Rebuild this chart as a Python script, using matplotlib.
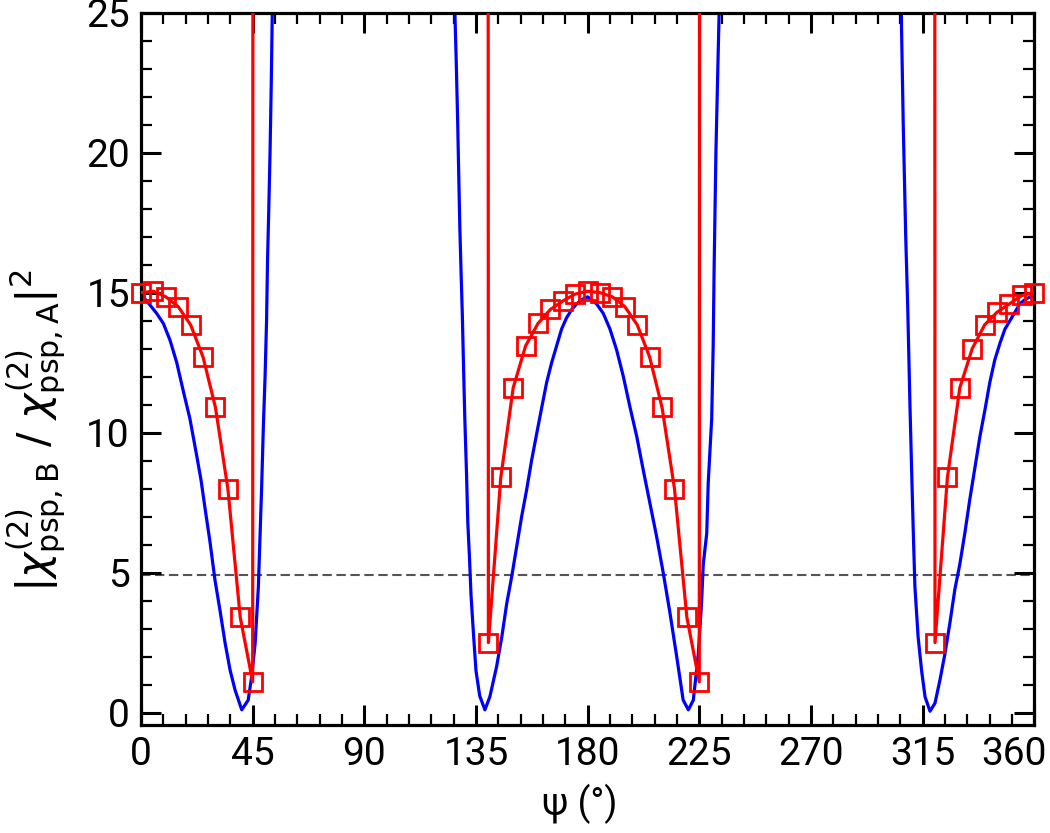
import numpy as np
import matplotlib
matplotlib.use("Agg")
import matplotlib.pyplot as plt
import matplotlib.transforms as mtransforms
from matplotlib.ticker import MultipleLocator

# ---------------- data ----------------
# blue curve, three visible branches (values above 25 are off-chart)
blue1_x = [0.0, 0.9, 3.6, 6.3, 9.0, 11.7, 14.4, 17.0, 19.7, 22.4, 24.2, 25.8, 27.8,
           29.8, 31.8, 33.9, 35.9, 37.9, 40.6, 43.2, 44.6, 46.0, 47.3, 48.0, 48.6,
           49.3, 50.0, 50.6, 51.0, 51.5, 52.0, 52.5, 52.9, 53.3]
blue1_y = [14.85, 14.85, 14.56, 14.26, 13.9, 13.3, 12.5, 11.5, 10.5, 9.2, 8.3, 7.3, 6.1,
           4.74, 3.67, 2.48, 1.52, 0.81, 0.1, 0.45, 1.29, 2.48, 4.5, 6.4, 8.0,
           10.2, 12.0, 14.0, 16.2, 18.0, 20.0, 22.5, 25.0, 30.0]

blue2_x = [126.0, 126.5, 127.0, 127.6, 128.1, 128.5, 129.0, 129.5, 130.0, 130.5, 131.2,
           131.7, 132.4, 133.0, 134.0, 135.0, 136.5, 138.6, 140.6, 143.3, 145.4, 147.4,
           149.4, 151.4, 153.4, 155.4, 157.4, 159.5, 161.5, 163.5, 165.5, 167.5, 169.5,
           171.5, 173.6, 175.6, 177.6, 180.0, 183.6, 186.3, 189.0, 191.7, 194.4, 197.1,
           199.8, 202.4, 205.1, 207.8, 210.5, 213.2, 215.9, 218.5, 220.6, 222.6, 224.6,
           225.9, 226.6, 228.0, 228.6, 230.0, 230.6, 231.0, 231.7, 232.6, 233.0, 233.4]
blue2_y = [30.0, 25.0, 23.4, 21.2, 19.0, 17.3, 15.7, 14.2, 12.3, 10.5, 8.5,
           6.8, 5.5, 4.2, 2.8, 1.5, 0.6, 0.1, 0.57, 1.64, 2.7, 3.9,
           4.86, 5.93, 7.0, 7.95, 9.0, 9.98, 10.9, 11.8, 12.5, 13.1, 13.7,
           14.1, 14.4, 14.6, 14.75, 14.85, 14.6, 14.26, 13.7, 12.95, 12.0, 10.9,
           9.86, 8.67, 7.48, 6.29, 4.98, 3.55, 2.0, 0.45, 0.1, 0.45, 2.1,
           3.9, 5.3, 6.4, 8.2, 10.5, 13.1, 16.0, 20.0, 23.5, 25.0, 30.0]

blue3_x = [306.0, 306.5, 307.2, 308.2, 309.0, 309.9, 310.6, 311.2, 311.9, 313.2, 314.6,
           316.0, 318.0, 320.0, 322.0, 324.0, 326.0, 328.0, 330.0, 332.0, 334.0, 336.0,
           338.1, 340.1, 342.1, 344.1, 346.2, 348.2, 350.2, 352.2, 354.2, 356.2, 358.3, 360.0]
blue3_y = [30.0, 24.5, 21.0, 17.0, 14.5, 11.0, 8.6, 6.6, 4.5, 2.7, 1.5,
           0.56, 0.05, 0.34, 1.17, 2.1, 3.2, 4.4, 5.3, 6.4, 7.6, 8.7,
           9.86, 10.8, 11.8, 12.6, 13.2, 13.7, 14.0, 14.3, 14.6, 14.75, 14.85, 14.85]

# red curve (with square markers every 5 degrees); the 60-values are off-chart poles
red1_x = [0, 5, 10, 15, 20, 25, 30, 35, 40, 45]
red1_y = [15.0, 15.05, 14.85, 14.5, 13.85, 12.7, 10.9, 8.0, 3.4, 1.1]
red2_x = [140, 145, 150, 155, 160, 165, 170, 175, 180, 185, 190, 195, 200, 205,
          210, 215, 220, 225]
red2_y = [2.5, 8.4, 11.6, 13.1, 13.9, 14.4, 14.7, 14.95, 15.05, 15.0, 14.85, 14.5,
          13.85, 12.7, 10.9, 8.0, 3.4, 1.1]
red3_x = [320, 325, 330, 335, 340, 345, 350, 355, 360]
red3_y = [2.5, 8.4, 11.6, 13.0, 13.85, 14.3, 14.6, 14.9, 15.0]
pole_after_x = [45.2, 225.2]      # red rises off-chart right after these
pole_before_x = [139.8, 319.8]    # red comes down from off-chart here
pole_y = 60.0

ref_level = 4.9

# ---------------- figure ----------------
fig = plt.figure(figsize=(10.5, 8.33), dpi=100)
ax = fig.add_axes([0.1343, 0.1297, 0.8507, 0.8551])

lw = 2.3
for bx, by in [(blue1_x, blue1_y), (blue2_x, blue2_y), (blue3_x, blue3_y)]:
    ax.plot(bx, by, color="#0000ff", lw=lw, solid_joinstyle="round", zorder=2)

rl1_x = red1_x + [pole_after_x[0]]
rl1_y = red1_y + [pole_y]
rl2_x = [pole_before_x[0]] + red2_x + [pole_after_x[1]]
rl2_y = [pole_y] + red2_y + [pole_y]
rl3_x = [pole_before_x[1]] + red3_x
rl3_y = [pole_y] + red3_y
for rx, ry in [(rl1_x, rl1_y), (rl2_x, rl2_y), (rl3_x, rl3_y)]:
    ax.plot(rx, ry, color="#ff0000", lw=lw, zorder=3)
for rx, ry in [(red1_x, red1_y), (red2_x, red2_y), (red3_x, red3_y)]:
    ax.plot(rx, ry, linestyle="none", marker="s", markersize=13,
            markerfacecolor="none", markeredgecolor="#ff0000", markeredgewidth=2.0,
            zorder=4, clip_on=False)

ax.axhline(ref_level, color="#555555", lw=1.5, linestyle=(0, (4.5, 2.2)), zorder=1)

ax.set_xlim(0, 360)
ax.set_ylim(-0.44, 25)

ax.xaxis.set_major_locator(MultipleLocator(45))
ax.xaxis.set_minor_locator(MultipleLocator(9))
ax.yaxis.set_major_locator(MultipleLocator(5))
ax.yaxis.set_minor_locator(MultipleLocator(1))

fam = ["Roboto", "DejaVu Sans"]
ax.tick_params(which="both", direction="in", top=True, right=True)
ax.tick_params(which="major", length=14.5, width=2.2, labelsize=28, pad=8)
ax.tick_params(which="minor", length=8, width=1.6)
for lab in ax.get_xticklabels() + ax.get_yticklabels():
    lab.set_family(fam)
for s in ax.spines.values():
    s.set_linewidth(2.3)

fig.canvas.draw()
for l in ax.get_xticklabels():
    if l.get_text() == "360":
        l.set_transform(l.get_transform() +
                        mtransforms.ScaledTranslation(-20 / 100, 0, fig.dpi_scale_trans))

ax.set_xlabel("ψ (°)", fontsize=27, family=fam)
ax.xaxis.set_label_coords(0.4916, -0.082)
ax.set_ylabel(r"$|\chi^{\mathit{(2)}}_{\rm psp,B}\ /\ \chi^{\mathit{(2)}}_{\rm psp,A}|^2$",
              fontsize=31)
ax.yaxis.set_label_coords(-0.082, 0.414)

fig.savefig("out.png", dpi=100)
